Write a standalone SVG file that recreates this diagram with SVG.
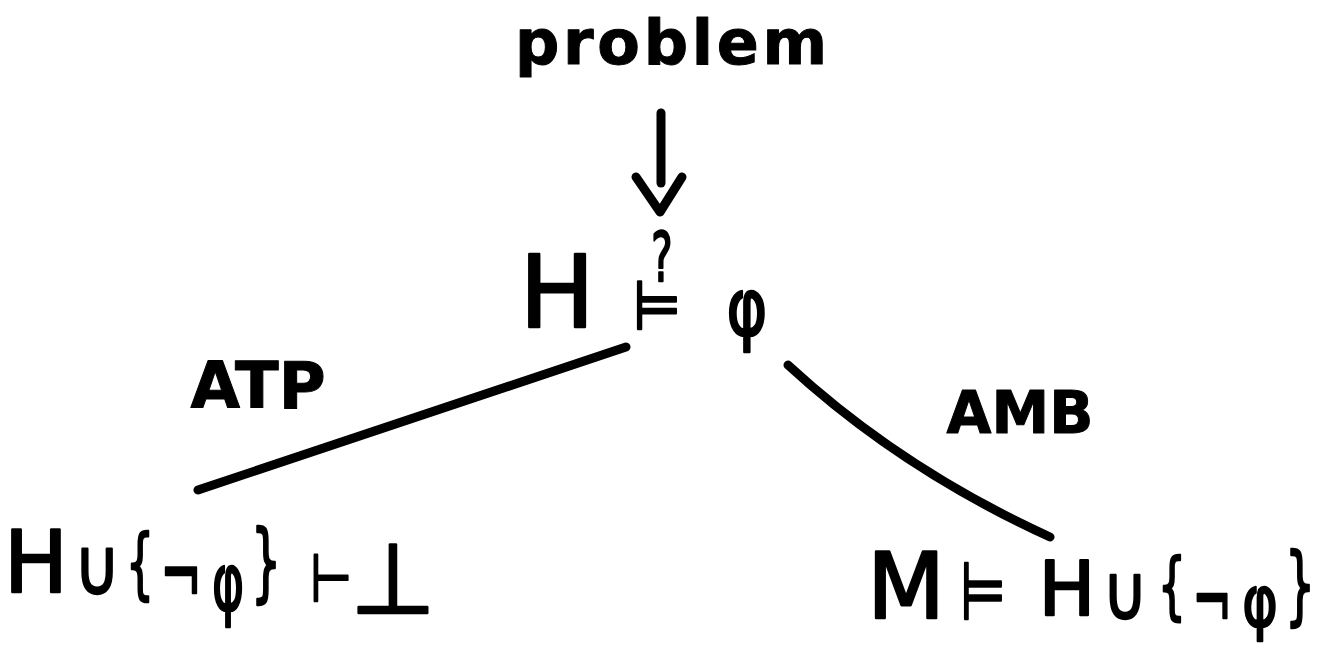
<svg xmlns="http://www.w3.org/2000/svg" width="1324" height="655" viewBox="0 0 1324 655">
<style>
text{font-family:"DejaVu Sans","Liberation Sans",sans-serif;fill:#000;stroke:#000;stroke-width:2.5;stroke-linejoin:round;text-anchor:middle}
.lbl{font-weight:bold;stroke-width:1}
.edge{fill:none;stroke:#000;stroke-width:9;stroke-linecap:round;stroke-linejoin:round}
</style>
<rect width="1324" height="655" fill="#fff"/>
<g id="problem">
<text class="lbl" x="671" y="64" font-size="62" textLength="312" lengthAdjust="spacing">problem</text>
</g>
<g id="query">
<text x="557" y="327" font-size="100">H</text>
<text transform="translate(662,281) scale(0.59,1)" font-size="68">?</text>
<text transform="translate(657,329) scale(0.8,1)" font-size="68">⊨</text>
<text transform="translate(747,335) scale(0.775,1)" font-size="80">φ</text>
</g>
<g id="atp-result">
<text x="36" y="592" font-size="85">H</text>
<text transform="translate(97,594) scale(0.8,1)" font-size="78">∪</text>
<text transform="translate(140,589) scale(0.58,1)" font-size="76">{</text>
<text transform="translate(181,606) scale(0.55,1)" font-size="90">¬</text>
<text transform="translate(228,610) scale(0.61,1)" font-size="80">φ</text>
<text transform="translate(266,591) scale(0.55,1)" font-size="86">}</text>
<text transform="translate(331,601) scale(0.72,1)" font-size="66">⊢</text>
<text x="393" y="613" font-size="98">⊥</text>
</g>
<g id="amb-result">
<text x="906" y="618" font-size="90">M</text>
<text transform="translate(983,619) scale(0.65,1)" font-size="80">⊨</text>
<text x="1067" y="615" font-size="75">H</text>
<text transform="translate(1125,619) scale(0.8,1)" font-size="76">∪</text>
<text transform="translate(1172,611) scale(0.6,1)" font-size="73">{</text>
<text transform="translate(1212,630) scale(0.55,1)" font-size="86">¬</text>
<text transform="translate(1260,626) scale(0.75,1)" font-size="72">φ</text>
<text transform="translate(1300,614) scale(0.55,1)" font-size="86">}</text>
</g>
<g id="connectors">
<path class="edge" d="M661 113 L661 183"/>
<path class="edge" d="M636 177 L660 212 L682 177"/>
<path class="edge" d="M198 490 L626 347"/>
<path class="edge" d="M788 365 Q901 469 1050 537"/>
<text class="lbl" x="258" y="408" font-size="64">ATP</text>
<text class="lbl" x="1020" y="433" font-size="58">AMB</text>
</g>
</svg>
